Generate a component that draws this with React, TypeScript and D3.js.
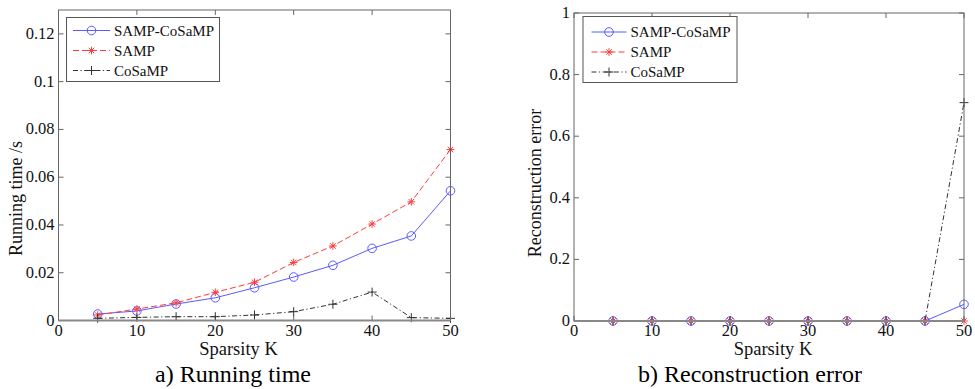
import React from "react";
import * as d3 from "d3";

const sparsity = [5, 10, 15, 20, 25, 30, 35, 40, 45, 50];
const seriesNames = ["SAMP-CoSaMP", "SAMP", "CoSaMP"];

const timeSampCosamp = [0.0027, 0.004, 0.0069, 0.0095, 0.0137, 0.0182, 0.0231, 0.0302, 0.0354, 0.0543];
const timeSamp = [0.0023, 0.0048, 0.0074, 0.0118, 0.016, 0.0243, 0.0312, 0.0404, 0.0497, 0.0716];
const timeCosamp = [0.0009, 0.0013, 0.0016, 0.0016, 0.0023, 0.0037, 0.0068, 0.0119, 0.0012, 0.0009];

const errSampCosamp = [0, 0, 0, 0, 0, 0, 0, 0, 0, 0.054];
const errSamp = [0, 0, 0, 0, 0, 0, 0, 0, 0, 0];
const errCosamp = [0, 0, 0, 0, 0, 0, 0, 0, 0, 0.709];

const xTicks = [0, 10, 20, 30, 40, 50];
const timeTicks = [0, 0.02, 0.04, 0.06, 0.08, 0.1, 0.12];
const errTicks = [0, 0.2, 0.4, 0.6, 0.8, 1];

const FONT = "'Liberation Serif', 'Times New Roman', serif";
const styles = [
  { color: "#5a5aff", dash: "", marker: "circle" },
  { color: "#ff3b3b", dash: "6,3", marker: "star" },
  { color: "#333333", dash: "5,2.5,1.2,2.5", marker: "plus" },
];

function Marker({ type, x, y, color }: { type: string; x: number; y: number; color: string }) {
  if (type === "circle") return <circle cx={x} cy={y} r={4.3} fill="none" stroke={color} strokeWidth={1} />;
  if (type === "plus") {
    const s = 4.5;
    return (
      <path d={`M${x - s},${y}H${x + s}M${x},${y - s}V${y + s}`} stroke={color} strokeWidth={1} />
    );
  }
  const s = 3.8;
  const d = s * 0.72;
  return (
    <path
      d={`M${x - s},${y}H${x + s}M${x},${y - s}V${y + s}M${x - d},${y - d}L${x + d},${y + d}M${x - d},${y + d}L${x + d},${y - d}`}
      stroke={color}
      strokeWidth={1}
    />
  );
}

type PanelProps = {
  left: number; right: number; top: number; bottom: number;
  yMax: number; yTicks: number[]; yFmt: (v: number) => string;
  data: number[][];
  legend: { x0: number; y0: number; w: number; h: number; lineX0: number; lineX1: number; textX: number; rows: number[] };
  yLabel: string; yLabelX: number; yLabelY: number;
  xLabelX: number; titleX: number; title: string;
};

function Panel(p: PanelProps) {
  const x = d3.scaleLinear().domain([0, 50]).range([p.left, p.right]);
  const y = d3.scaleLinear().domain([0, p.yMax]).range([p.bottom, p.top]);
  const line = d3.line<number>().x((_, i) => x(sparsity[i])).y((v) => y(v));
  const tl = 5;
  return (
    <g>
      {xTicks.map((t) => (
        <g key={"xt" + t}>
          <line x1={x(t)} x2={x(t)} y1={p.bottom} y2={p.bottom - tl} stroke="#666" />
          <line x1={x(t)} x2={x(t)} y1={p.top} y2={p.top + tl} stroke="#666" />
          <text x={x(t)} y={p.bottom + 15} textAnchor="middle" fontSize={16.5} fontFamily={FONT} fill="#111">{t}</text>
        </g>
      ))}
      {p.yTicks.map((t) => (
        <g key={"yt" + t}>
          <line x1={p.left} x2={p.left + tl} y1={y(t)} y2={y(t)} stroke="#666" />
          <line x1={p.right} x2={p.right - tl} y1={y(t)} y2={y(t)} stroke="#666" />
          <text x={p.left - 4} y={y(t) + 5} textAnchor="end" fontSize={16.5} fontFamily={FONT} fill="#111">{p.yFmt(t)}</text>
        </g>
      ))}
      {p.data.map((vals, si) => (
        <g key={"s" + si}>
          <path d={line(vals) || ""} fill="none" stroke={styles[si].color} strokeWidth={1} strokeDasharray={styles[si].dash} />
          {vals.map((v, i) => (
            <Marker key={i} type={styles[si].marker} x={x(sparsity[i])} y={y(v)} color={styles[si].color} />
          ))}
        </g>
      ))}
      <rect x={p.left} y={p.top} width={p.right - p.left} height={p.bottom - p.top} fill="none" stroke="#666" strokeWidth={1} />
      <line x1={p.left} x2={p.right} y1={p.bottom} y2={p.bottom} stroke="#888" strokeWidth={2} />
      <rect x={p.legend.x0} y={p.legend.y0} width={p.legend.w} height={p.legend.h} fill="#fff" stroke="#555" strokeWidth={1} />
      {seriesNames.map((n, i) => {
        const ly = p.legend.rows[i];
        const mx = (p.legend.lineX0 + p.legend.lineX1) / 2;
        return (
          <g key={n}>
            <line x1={p.legend.lineX0} x2={p.legend.lineX1} y1={ly} y2={ly} stroke={styles[i].color} strokeDasharray={styles[i].dash} />
            <Marker type={styles[i].marker} x={mx} y={ly} color={styles[i].color} />
            <text x={p.legend.textX} y={ly + 5} fontSize={15} fontFamily={FONT} fill="#111">{n}</text>
          </g>
        );
      })}
      <text transform={`translate(${p.yLabelX},${p.yLabelY}) rotate(-90)`} textAnchor="middle" fontSize={18} fontFamily={FONT} fill="#111">{p.yLabel}</text>
      <text x={p.xLabelX} y={355} textAnchor="middle" fontSize={18.5} fontFamily={FONT} fill="#111">Sparsity K</text>
      <text x={p.titleX} y={382} textAnchor="middle" fontSize={24} fontFamily={FONT} fill="#000">{p.title}</text>
    </g>
  );
}

export default function App() {
  const fmtTime = (v: number) => (v === 0 ? "0" : String(+v.toFixed(2)));
  const fmtErr = (v: number) => (v === 0 ? "0" : String(+v.toFixed(1)));
  return (
    <svg width={975} height={389} style={{ position: "absolute", left: 0, top: 0, background: "#fff" }}>
      <rect width={975} height={389} fill="#fff" />
      <Panel
        left={58.5} right={450.5} top={10} bottom={320.5}
        yMax={0.13} yTicks={timeTicks} yFmt={fmtTime}
        data={[timeSampCosamp, timeSamp, timeCosamp]}
        legend={{ x0: 66.5, y0: 17.5, w: 153, h: 64, lineX0: 73, lineX1: 110, textX: 114, rows: [30.5, 50.5, 70.5] }}
        yLabel="Running time /s" yLabelX={22} yLabelY={198.5}
        xLabelX={238.5} titleX={233} title="a) Running time"
      />
      <Panel
        left={574} right={964} top={13} bottom={321}
        yMax={1} yTicks={errTicks} yFmt={fmtErr}
        data={[errSampCosamp, errSamp, errCosamp]}
        legend={{ x0: 583, y0: 16.5, w: 154, h: 66, lineX0: 591.5, lineX1: 626.5, textX: 630.5, rows: [32, 52, 72] }}
        yLabel="Reconstruction error" yLabelX={541} yLabelY={183}
        xLabelX={773} titleX={750} title="b) Reconstruction error"
      />
    </svg>
  );
}
